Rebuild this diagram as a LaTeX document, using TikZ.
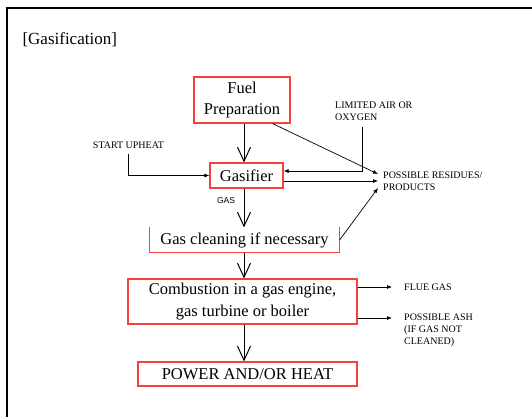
\documentclass[tikz,border=0pt]{standalone}
\usepackage{fontspec}
\setmainfont{Liberation Serif}
\newfontfamily\gasfont{Liberation Sans}
\usetikzlibrary{positioning,arrows.meta}
\definecolor{boxred}{RGB}{246,64,64}

\begin{document}
\begin{tikzpicture}[x=1pt,y=-1pt,
  box/.style={draw=boxred,line width=1.2pt,inner sep=0pt,align=center,font=\fontsize{16.5}{21.5}\selectfont},
  tag/.style={inner sep=0pt,align=left,font=\fontsize{10}{12}\selectfont},
  flow/.style={-{Straight Barb[length=14pt,width=13pt,line width=1pt]},line width=0.9pt},
  side/.style={-{Latex[length=5pt,width=4pt]},line width=0.7pt}]
\useasboundingbox (0,0) rectangle (532,417);
% ---------------- frame and title ----------------
\draw[line width=1.3pt] (7,417) -- (7,8) -- (532,8);
\node[anchor=west,font=\fontsize{17}{20}\selectfont] (title) at (19,40) {[Gasification]};
% ---------------- main chain ----------------
\node[box,minimum width=96pt,minimum height=46pt] (fuel) at (242,100) {Fuel\\Preparation};
\node[box,minimum width=73pt,minimum height=25pt] (gasifier) at (246.5,175.5) {Gasifier};
\node[box,draw=none,minimum width=189pt,minimum height=24pt] (clean) at (244.5,240) {Gas cleaning if necessary};
\draw[boxred,line width=1.2pt] (clean.north west) -- (clean.south west) -- (clean.south east) -- (clean.north east);
\node[box,minimum width=229pt,minimum height=45pt] (comb) at (242.5,301.5) {Combustion in a gas engine,\\gas turbine or boiler};
\node[box,minimum width=219pt,minimum height=24pt] (power) at (247.5,374) {POWER AND/OR HEAT};
\coordinate (axis) at (244,0);
\draw[flow] (fuel.south -| axis) -- (gasifier.north -| axis);
\draw[flow] (gasifier.south -| axis) -- (clean.north -| axis);
\draw[flow] (clean.south -| axis) -- (comb.north -| axis);
\draw[flow] (comb.south -| axis) -- (power.north -| axis);
\node[font=\gasfont\fontsize{8.5}{10}\selectfont] (gaslabel) at (226,201) {GAS};
% ---------------- inputs and outputs ----------------
\node[tag,inner ysep=5pt] (upheat) at (128.5,145) {START UPHEAT};
\draw[side] (upheat.south) |- (gasifier.west);
\node[tag,anchor=north west] (air) at (335,102) {LIMITED AIR OR\\OXYGEN};
\coordinate (airdrop) at (362,127);
\draw[side] (airdrop) |- ([yshift=4.5pt]gasifier.east);
\node[tag,anchor=west,inner xsep=5pt] (residues) at (378,181) {POSSIBLE RESIDUES/\\PRODUCTS};
\draw[side] ([xshift=-18pt]fuel.south east) -- ([yshift=7pt]residues.west);
\draw[side] ([yshift=-5.5pt]gasifier.east) -- (residues.west);
\draw[side] (clean.east) -- ([yshift=-7pt]residues.west);
\node[tag,anchor=west,inner xsep=12pt] (flue) at (392,287) {FLUE GAS};
\draw[side] ([yshift=14.5pt]comb.east) -- (flue.west);
\node[tag,anchor=north west,inner xsep=12pt] (ash) at (392,314) {POSSIBLE ASH\\(IF GAS NOT\\CLEANED)};
\draw[side] ([yshift=-16.5pt]comb.east) -- ([yshift=-4pt]ash.north west);
\end{tikzpicture}
\end{document}
